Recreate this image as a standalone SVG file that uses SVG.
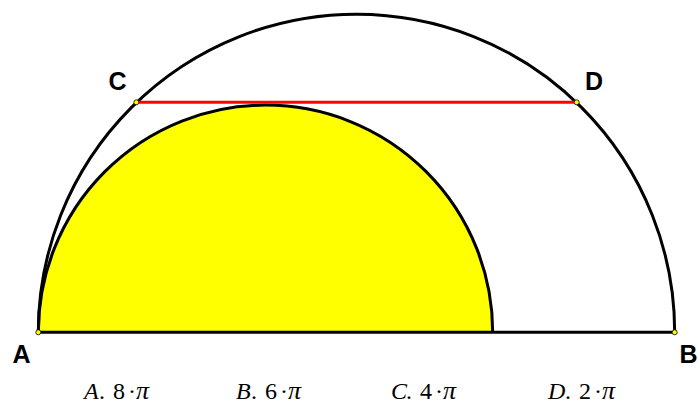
<svg xmlns="http://www.w3.org/2000/svg" width="698" height="404" viewBox="0 0 698 404">
<style>
.lbl{font-family:"Liberation Sans",Arial,sans-serif;font-weight:bold;font-size:25px;fill:#000}
.ans{font-family:"Liberation Serif","Times New Roman",serif;font-size:24px;fill:#000}
.it{font-style:italic}
.pi{font-style:italic;font-size:26px}
.pt{fill:#ffff00;stroke:#000;stroke-width:0.8}
</style>
<rect width="698" height="404" fill="#fff"/>
<g id="small-semicircle">
<path d="M38.3,332.3 A227.2,227.2 0 0 1 492.7,332.3 Z" fill="#ffff00" stroke="none"/>
<path d="M38.3,332.3 A227.2,227.2 0 0 1 492.7,332.3" fill="none" stroke="#000" stroke-width="3"/>
</g>
<g id="connectors">
<path d="M38.3,332.3 A318.2,318.2 0 0 1 674.7,332.3" fill="none" stroke="#000" stroke-width="3"/>
<line x1="38.3" y1="332.3" x2="674.7" y2="332.3" stroke="#000" stroke-width="3"/>
<line x1="136.3" y1="102.3" x2="576.7" y2="102.3" stroke="#ff0000" stroke-width="3"/>
</g>
<g id="A"><circle class="pt" cx="38.3" cy="332.3" r="2.5"/><text class="lbl" x="21.5" y="363" text-anchor="middle">A</text></g>
<g id="B"><circle class="pt" cx="674.7" cy="332.3" r="2.5"/><text class="lbl" x="688.5" y="363" text-anchor="middle">B</text></g>
<g id="C"><circle class="pt" cx="136.3" cy="102.3" r="2.5"/><text class="lbl" x="117.5" y="90" text-anchor="middle">C</text></g>
<g id="D"><circle class="pt" cx="576.7" cy="102.3" r="2.5"/><text class="lbl" x="594" y="90" text-anchor="middle">D</text></g>
<g id="answers">
<text class="ans" y="399"><tspan class="it" x="84">A</tspan><tspan x="99">.</tspan><tspan x="113">8</tspan><tspan x="128">·</tspan><tspan class="pi" x="136">π</tspan></text>
<text class="ans" y="399"><tspan class="it" x="236">B</tspan><tspan x="251">.</tspan><tspan x="265">6</tspan><tspan x="280">·</tspan><tspan class="pi" x="288">π</tspan></text>
<text class="ans" y="399"><tspan class="it" x="391">C</tspan><tspan x="406">.</tspan><tspan x="420">4</tspan><tspan x="435">·</tspan><tspan class="pi" x="443">π</tspan></text>
<text class="ans" y="399"><tspan class="it" x="548">D</tspan><tspan x="565">.</tspan><tspan x="579">2</tspan><tspan x="594">·</tspan><tspan class="pi" x="602">π</tspan></text>
</g>
</svg>
